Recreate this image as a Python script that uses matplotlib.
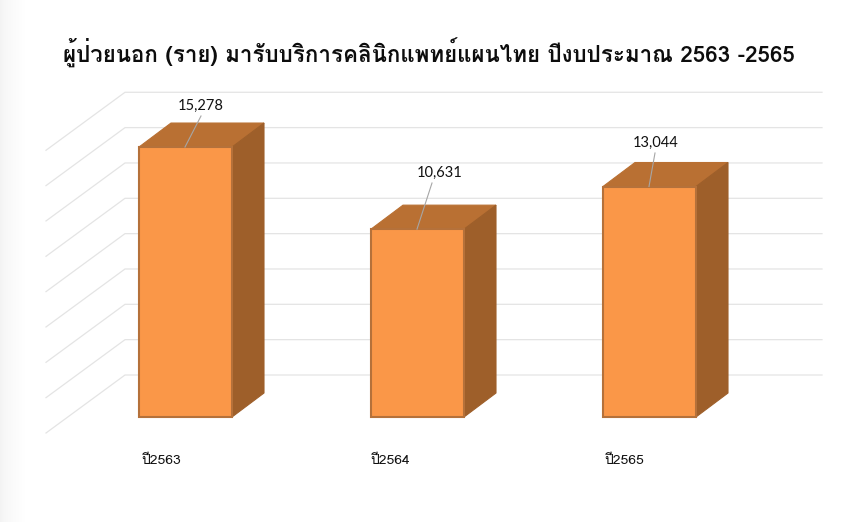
import numpy as np
import matplotlib
matplotlib.use('Agg')
import matplotlib.pyplot as plt
from matplotlib.patches import Polygon

categories = ['ปี2563', 'ปี2564', 'ปี2565']
values = [15278, 10631, 13044]
value_labels = ['15,278', '10,631', '13,044']
grid_values = [0, 2000, 4000, 6000, 8000, 10000, 12000, 14000, 16000]
title = 'ผู้ป่วยนอก (ราย) มารับบริการคลินิกแพทย์แผนไทย ปีงบประมาณ 2563 -2565'

W, H = 842, 522
PX = 0.01767          # pixels per patient
BASE = 417            # pixel row of value 0 on the bars' front plane
bar_left = [139, 371, 603]
bar_w = 93
depth_x, depth_y = 32, 24
label_xy = [(201, 106), (440, 173), (656, 143)]
leader_foot = [185, 417, 649]
leader_head = [(201, 116), (432, 183), (655, 153)]
tick_x = [141, 370, 604]

FRONT, TOP, SIDE, EDGE = '#FA9748', '#B97033', '#9E5F2A', '#B5713A'
GRID = '#E4E4E4'
THAI = 'Loma'

fig = plt.figure(figsize=(W / 100, H / 100), dpi=100)
ax = fig.add_axes([0, 0, 1, 1])
ax.set_xlim(0, W)
ax.set_ylim((BASE - H) / PX, BASE / PX)
ax.axis('off')
dv = lambda px: px / PX

# soft shadow at the left edge of the slide
grad = np.linspace(0, 1, 26)[None, :] ** 0.6
ax.imshow(grad, extent=(0, 26, *ax.get_ylim()), cmap=matplotlib.colors.LinearSegmentedColormap.from_list('s', ['#F3F3F3', '#FFFFFF']),
          aspect='auto', zorder=0)
ax.set_xlim(0, W)

# back wall and side wall gridlines
for g in grid_values:
    y_back = g + dv(42)
    y_front = g - dv(16)
    ax.plot([46, 125, 822], [y_front, y_back, y_back], color=GRID, lw=0.9, zorder=1, solid_joinstyle='miter')

for x0, v in zip(bar_left, values):
    x1 = x0 + bar_w
    d = dv(depth_y)
    ax.add_patch(Polygon([(x0, v), (x1, v), (x1 + depth_x, v + d), (x0 + depth_x, v + d)],
                         fc=TOP, ec=TOP, lw=0.8, zorder=3))
    ax.add_patch(Polygon([(x1, 0), (x1 + depth_x, d), (x1 + depth_x, v + d), (x1, v)],
                         fc=SIDE, ec=SIDE, lw=0.8, zorder=3))
    ax.add_patch(Polygon([(x0, 0), (x1, 0), (x1, v), (x0, v)],
                         fc=FRONT, ec=EDGE, lw=1.5, zorder=4))

for foot, v, (hx, hy) in zip(leader_foot, values, leader_head):
    ax.plot([foot, hx], [v, dv(BASE - hy)], color='#A6A6A6', lw=0.8, zorder=5)

for (lx, ly), s in zip(label_xy, value_labels):
    ax.text(lx, dv(BASE - ly), s, ha='center', va='center', fontsize=10.5,
            family=['Lato', THAI], color='#111111', zorder=6)

for x, c in zip(tick_x, categories):
    ax.text(x, dv(BASE - 460.5), c, ha='left', va='center', fontsize=10,
            family=[THAI, 'Lato'], color='#111111', zorder=6)

ax.text(428.5, dv(BASE - 53), title, ha='center', va='center', fontsize=16.1, fontweight='bold',
        family=[THAI, 'Lato'], color='#0D0D0D', zorder=6)

fig.savefig('out.png', dpi=100)
